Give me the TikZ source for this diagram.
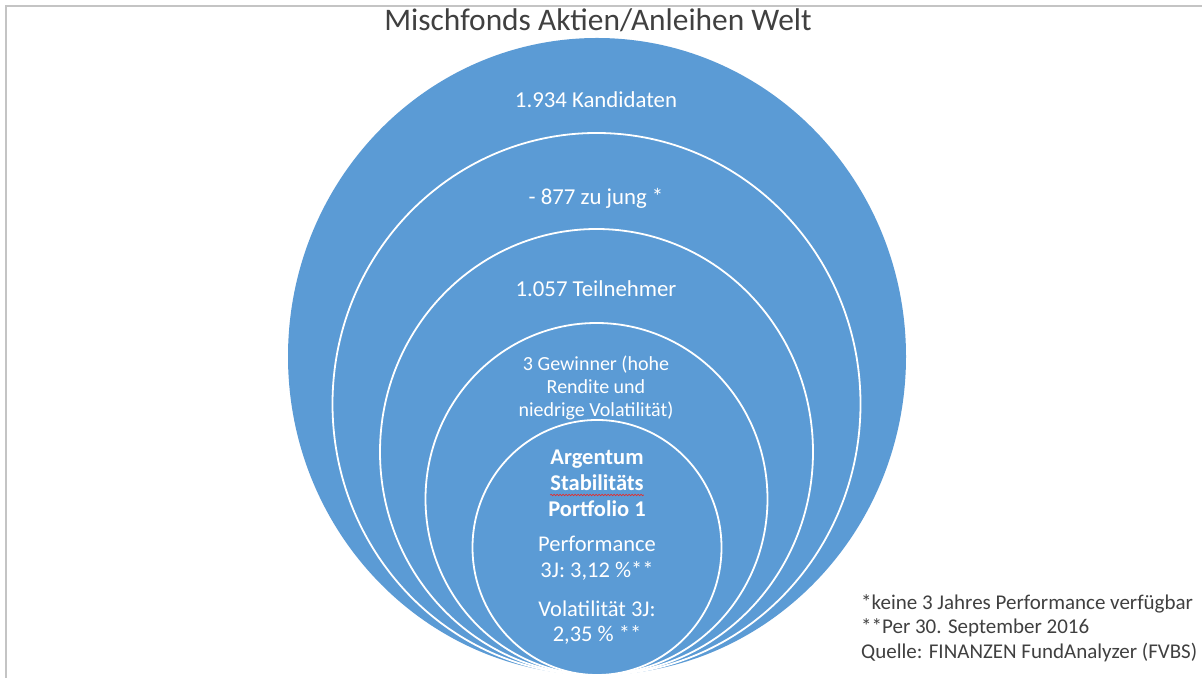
\documentclass[tikz,border=0pt]{standalone}
\usepackage{fontspec}
\setmainfont{Carlito}
\usetikzlibrary{decorations.pathmorphing}
\definecolor{fillblue}{HTML}{5B9BD5}
\definecolor{txtgray}{HTML}{404040}
\definecolor{framegray}{HTML}{C4C4C4}
\definecolor{spellred}{HTML}{E03030}
\tikzset{
  ring/.style={fill=fillblue, draw=white, line width=1.8bp},
  lbl/.style={text=white, inner sep=0pt, anchor=base, font=\fontsize{22.8bp}{27bp}\selectfont},
  sublbl/.style={text=white, inner sep=0pt, anchor=base, font=\fontsize{20bp}{24bp}\selectfont},
  corelbl/.style={text=white, inner sep=0pt, anchor=base, font=\fontsize{22.5bp}{26bp}\selectfont},
  corebold/.style={corelbl, font=\fontsize{22.5bp}{26bp}\selectfont\bfseries},
  note/.style={text=txtgray, inner sep=0pt, anchor=base west, font=\fontsize{21bp}{25bp}\selectfont},
  titletext/.style={text=txtgray, inner sep=0pt, anchor=base, font=\fontsize{31.4bp}{37bp}\selectfont}
}
\begin{document}
\begin{tikzpicture}[x=1bp, y=1bp]
\useasboundingbox (0,0) rectangle (1202,678);
\fill[white] (0,0) rectangle (1202,678);
% frame
\draw[framegray, line width=2.5bp] (6,0) -- (6,672) -- (1202,672);
% nested ellipses
\fill[fillblue] (597,321.5) ellipse [x radius=309, y radius=318.5];
\filldraw[ring] (596.5,274) ellipse [x radius=264, y radius=271];
\filldraw[ring] (596.5,226) ellipse [x radius=216.5, y radius=223];
\filldraw[ring] (596.5,179) ellipse [x radius=171, y radius=176];
\filldraw[ring] (597,130.5) ellipse [x radius=124.5, y radius=127.5];
% title
\node[titletext] (title) at (598,647) {Mischfonds Aktien/Anleihen Welt};
% ring labels
\node[lbl] (kand) at (596,570) {1.934 Kandidaten};
\node[lbl] (jung) at (596,473) {- 877 zu jung *};
\node[lbl] (teil) at (596,381) {1.057 Teilnehmer};
\node[sublbl] (gew1) at (596,307) {3 Gewinner (hohe};
\node[sublbl] (gew2) at (596,284) {Rendite und};
\node[sublbl] (gew3) at (596,261) {niedrige Volatilität)};
% core
\node[corebold] (arg1) at (597,213) {Argentum};
\node[corebold] (arg2) at (597,187) {Stabilitäts};
\node[corebold] (arg3) at (597,161) {Portfolio 1};
\draw[spellred, line width=0.7bp, decorate, decoration={snake, amplitude=0.7bp, segment length=3bp}]
  ([yshift=-4bp]arg2.base west) -- ([yshift=-4bp]arg2.base east);
\node[corelbl] (perf1) at (597,126) {Performance};
\node[corelbl] (perf2) at (597,100) {3J: 3,12 \%**};
\node[corelbl] (vol1) at (597,61) {Volatilität 3J:};
\node[corelbl] (vol2) at (597,36) {2,35 \% **};
% notes
\node[note] (n1) at (861,68) {*keine 3 Jahres Performance verfügbar};
\node[note] (n2) at (861,44) {**Per 30. September 2016};
\node[note] (n3) at (861,19) {Quelle: FINANZEN FundAnalyzer (FVBS)};
\end{tikzpicture}
\end{document}
